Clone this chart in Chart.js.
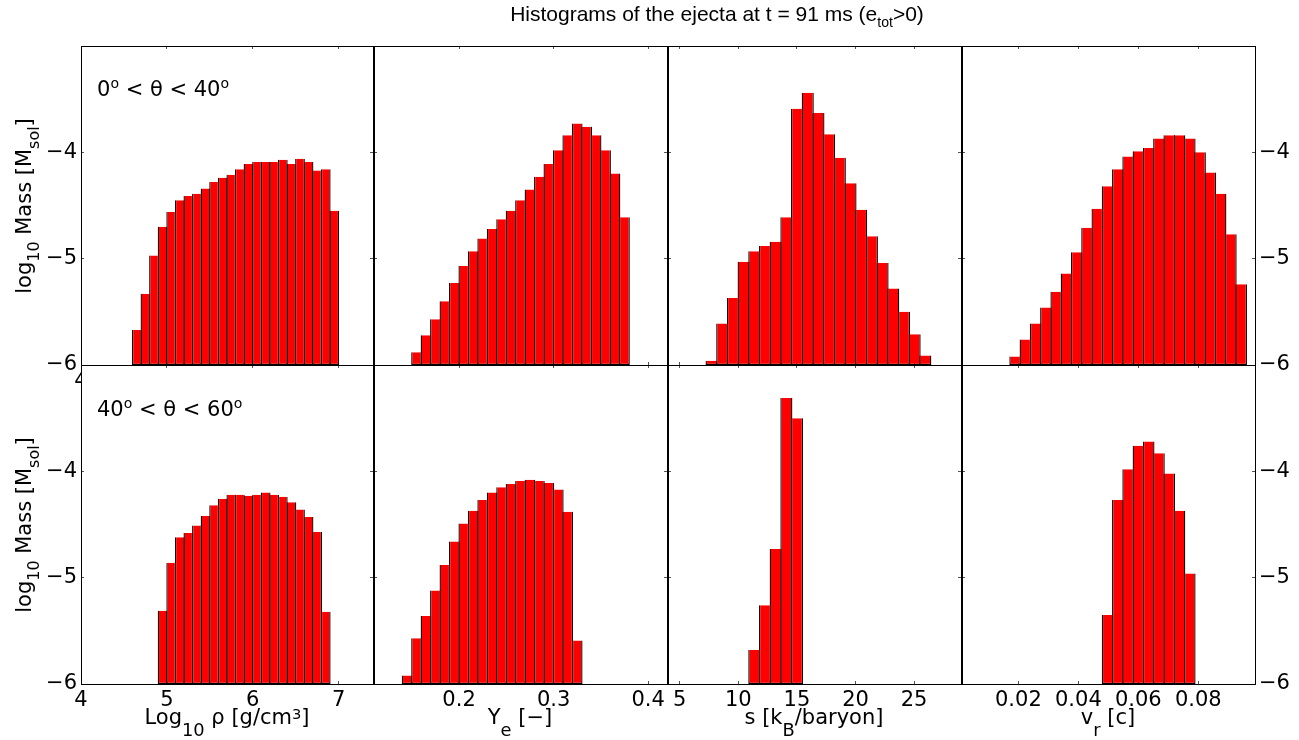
<!DOCTYPE html>
<html>
<head>
<meta charset="utf-8">
<title>Ejecta histograms</title>
<script src="https://cdn.jsdelivr.net/npm/chart.js@4.4.1/dist/chart.umd.min.js"></script>
<style>
  html, body { margin: 0; padding: 0; background: #fff; }
  #fig { position: relative; width: 1299px; height: 740px; overflow: hidden; }
  #fig canvas { position: absolute; left: 0; top: 0; }
  .txt { position: absolute; white-space: nowrap; line-height: 1; color: #000;
         font-family: "DejaVu Sans", sans-serif; font-size: 21px; }
  .txt sub, .txt sup { line-height: 0; }
  .title { font-family: "Liberation Sans", Arial, sans-serif; left: 717px; top: 3px; transform: translateX(-50%); }
  .title sub { font-size: 0.67em; vertical-align: -0.42em; }
  .rowtag { left: 97px; }
  .rowtag sup { font-size: 0.67em; vertical-align: 0.6em; }
  .xlab { top: 707px; transform: translateX(-50%); }
  .xlab sub { font-size: 0.85em; vertical-align: -0.7em; }
  .xlab sup { font-size: 0.7em; vertical-align: 0.35em; }
  .ylab { left: 24px; height: 21px; transform: translate(-50%, -50%) rotate(-90deg); }
  .ylab sub { font-size: 0.76em; vertical-align: -0.55em; }
</style>
</head>
<body>
<div id="fig">
  <canvas id="p1" width="1299" height="740"></canvas>
  <canvas id="p2" width="1299" height="740"></canvas>
  <canvas id="p3" width="1299" height="740"></canvas>
  <canvas id="p4" width="1299" height="740"></canvas>
  <canvas id="p5" width="1299" height="740"></canvas>
  <canvas id="p6" width="1299" height="740"></canvas>
  <canvas id="p7" width="1299" height="740"></canvas>
  <canvas id="p8" width="1299" height="740"></canvas>

  <div class="txt title">Histograms of the ejecta at t = 91 ms (e<sub>tot</sub>&gt;0)</div>
  <div class="txt rowtag" style="top:79px">0<sup>o</sup> &lt; θ &lt; 40<sup>o</sup></div>
  <div class="txt rowtag" style="top:399px">40<sup>o</sup> &lt; θ &lt; 60<sup>o</sup></div>
  <div class="txt ylab" style="top:206px">log<sub>10</sub> Mass [M<sub>sol</sub>]</div>
  <div class="txt ylab" style="top:525px">log<sub>10</sub> Mass [M<sub>sol</sub>]</div>
  <div class="txt xlab" style="left:227px">Log<sub>10</sub> ρ [g/cm<sup>3</sup>]</div>
  <div class="txt xlab" style="left:520px">Y<sub>e</sub> [−]</div>
  <div class="txt xlab" style="left:814px">s [k<sub>B</sub>/baryon]</div>
  <div class="txt xlab" style="left:1108px">v<sub>r</sub> [c]</div>
</div>

<script>
// ---------- DATA ----------
// log10 of ejected mass per bin; "A" = 0-40 deg, "B" = 40-60 deg

const massFloor = -6;
const massCeil = -3;
const massTicks = [-6, -5, -4, -3];

// density
const rhoTicks = [4, 5, 6, 7];
const rhoBinsA = [4.65, 4.75, 4.85, 4.95, 5.05, 5.15, 5.25, 5.35, 5.45, 5.55, 5.65, 5.75,
                  5.85, 5.95, 6.05, 6.15, 6.25, 6.35, 6.45, 6.55, 6.65, 6.75, 6.85, 6.95];
const rhoMassA = [-5.67, -5.33, -4.97, -4.70, -4.56, -4.45, -4.41, -4.39, -4.34, -4.28, -4.24, -4.21,
                  -4.16, -4.11, -4.09, -4.09, -4.09, -4.07, -4.11, -4.06, -4.09, -4.17, -4.16, -4.55];
const rhoBinsB = [4.95, 5.05, 5.15, 5.25, 5.35, 5.45, 5.55, 5.65, 5.75, 5.85,
                  5.95, 6.05, 6.15, 6.25, 6.35, 6.45, 6.55, 6.65, 6.75, 6.85];
const rhoMassB = [-5.31, -4.86, -4.62, -4.58, -4.51, -4.42, -4.32, -4.26, -4.22, -4.22,
                  -4.23, -4.22, -4.20, -4.22, -4.24, -4.29, -4.36, -4.43, -4.57, -5.32];

// electron fraction
const yeTicks = [0.2, 0.3, 0.4];
const yeBinsA = [0.155, 0.165, 0.175, 0.185, 0.195, 0.205, 0.215, 0.225, 0.235, 0.245, 0.255, 0.265,
                 0.275, 0.285, 0.295, 0.305, 0.315, 0.325, 0.335, 0.345, 0.355, 0.365, 0.375];
const yeMassA = [-5.88, -5.72, -5.57, -5.40, -5.23, -5.07, -4.93, -4.81, -4.72, -4.63, -4.55, -4.45,
                 -4.35, -4.23, -4.11, -3.98, -3.84, -3.73, -3.76, -3.84, -3.98, -4.20, -4.61];
const yeBinsB = [0.145, 0.155, 0.165, 0.175, 0.185, 0.195, 0.205, 0.215, 0.225, 0.235,
                 0.245, 0.255, 0.265, 0.275, 0.285, 0.295, 0.305, 0.315, 0.325];
const yeMassB = [-5.92, -5.57, -5.36, -5.12, -4.88, -4.66, -4.49, -4.37, -4.27, -4.20,
                 -4.15, -4.12, -4.09, -4.08, -4.09, -4.11, -4.17, -4.38, -5.59];

// entropy
const sTicks = [5, 10, 15, 20, 25];
const sBinsA = [7.716, 8.628, 9.540, 10.452, 11.364, 12.276, 13.188, 14.100, 15.012, 15.924, 16.836,
                17.748, 18.660, 19.572, 20.484, 21.396, 22.308, 23.220, 24.132, 25.044, 25.956];
const sMassA = [-5.96, -5.61, -5.37, -5.03, -4.93, -4.88, -4.84, -4.61, -3.59, -3.44, -3.63,
                -3.83, -4.05, -4.29, -4.54, -4.79, -5.04, -5.28, -5.50, -5.71, -5.91];
const sBinsB = [11.364, 12.276, 13.188, 14.100, 15.012];
const sMassB = [-5.68, -5.26, -4.73, -3.31, -3.50];

// radial velocity
const vrTicks = [0.02, 0.04, 0.06, 0.08];
const vrBinsA = [0.018913, 0.022339, 0.025765, 0.029191, 0.032617, 0.036043, 0.039469, 0.042895,
                 0.046321, 0.049747, 0.053173, 0.056599, 0.060025, 0.063451, 0.066877, 0.070303,
                 0.073729, 0.077155, 0.080581, 0.084007, 0.087433, 0.090859, 0.094285];
const vrMassA = [-5.92, -5.76, -5.61, -5.46, -5.31, -5.14, -4.94, -4.71,
                 -4.53, -4.32, -4.16, -4.04, -3.99, -3.96, -3.87, -3.84,
                 -3.84, -3.87, -4.00, -4.19, -4.39, -4.77, -5.24];
const vrBinsB = [0.049747, 0.053173, 0.056599, 0.060025, 0.063451, 0.066877, 0.070303, 0.073729, 0.077155];
const vrMassB = [-5.35, -4.27, -3.98, -3.76, -3.72, -3.83, -4.02, -4.37, -4.96];

// ---------- LAYOUT ----------

const pageW = 1299, pageH = 740;
const columns = [
  { left: 81,  right: 373,  min: 4,      max: 7.4,    ticks: rhoTicks },
  { left: 374, right: 667,  min: 0.11,   max: 0.42,   ticks: yeTicks },
  { left: 668, right: 961,  min: 4,      max: 29,     ticks: sTicks },
  { left: 962, right: 1255, min: 0.0012, max: 0.0989, ticks: vrTicks }
];
const rows = [{ top: 46, bottom: 365 }, { top: 365, bottom: 684 }];

// room reserved for each axis box (labels are clipped to it)
const axisRoom = { left: 60, right: 40, bottom: 50, top: 0 };

const tickFont = { family: "'DejaVu Sans', sans-serif", size: 21 };

// white plot box, so lower panels hide the upper panels' x labels
const whiteBox = {
  id: "whiteBox",
  beforeDraw(chart) {
    const a = chart.chartArea;
    chart.ctx.save();
    chart.ctx.fillStyle = "#fff";
    chart.ctx.fillRect(a.left, a.top, a.right - a.left, a.bottom - a.top);
    chart.ctx.restore();
  }
};

function massLabel(v) {
  return v === massCeil ? "" : "\u2212" + Math.abs(v);
}

// one edge of a panel box: inward ticks, no grid
function edgeAxis(position, min, max, tickValues, showLabels, fmt) {
  const horizontal = position === "top" || position === "bottom";
  const room = axisRoom[position];
  return {
    type: "linear",
    position: position,
    min: min,
    max: max,
    offset: false,
    afterBuildTicks: s => { s.ticks = tickValues.map(v => ({ value: v })); },
    afterFit: s => { if (horizontal) s.height = room; else s.width = room; },
    grid: { drawOnChartArea: false, drawTicks: true, tickLength: -3, color: "#555", lineWidth: 1, offset: false },
    border: { display: true, color: "#000", width: 1, z: 1 },
    ticks: {
      display: showLabels,
      font: tickFont,
      color: "#000",
      padding: 7,
      maxRotation: 0,
      autoSkip: false,
      callback: fmt
    }
  };
}

function makePanel(canvasId, colIdx, rowIdx, bins, mass) {
  const col = columns[colIdx];
  const row = rows[rowIdx];
  const points = bins.map((x, i) => ({ x: x, y: [massFloor, mass[i]] }));

  return new Chart(document.getElementById(canvasId), {
    type: "bar",
    data: {
      datasets: [{
        data: points,
        xAxisID: "x",
        yAxisID: "y",
        backgroundColor: "#ff0000",
        borderColor: "#000",
        borderWidth: 1.3,
        barPercentage: 1.13,
        categoryPercentage: 1
      }]
    },
    options: {
      responsive: false,
      animation: false,
      events: [],
      layout: {
        padding: {
          left: col.left - axisRoom.left,
          right: pageW - col.right - axisRoom.right,
          top: row.top - axisRoom.top,
          bottom: pageH - row.bottom - axisRoom.bottom
        }
      },
      plugins: { legend: { display: false }, tooltip: { enabled: false } },
      scales: {
        x: edgeAxis("bottom", col.min, col.max, col.ticks, true, v => String(v)),
        xTop: edgeAxis("top", col.min, col.max, col.ticks, false, v => String(v)),
        y: edgeAxis("left", massFloor, massCeil, massTicks, colIdx === 0, massLabel),
        yRight: edgeAxis("right", massFloor, massCeil, massTicks, colIdx === 3, massLabel)
      }
    },
    plugins: [whiteBox]
  });
}

// ---------- DRAW ----------

makePanel("p1", 0, 0, rhoBinsA, rhoMassA);
makePanel("p2", 1, 0, yeBinsA, yeMassA);
makePanel("p3", 2, 0, sBinsA, sMassA);
makePanel("p4", 3, 0, vrBinsA, vrMassA);
makePanel("p5", 0, 1, rhoBinsB, rhoMassB);
makePanel("p6", 1, 1, yeBinsB, yeMassB);
makePanel("p7", 2, 1, sBinsB, sMassB);
makePanel("p8", 3, 1, vrBinsB, vrMassB);
</script>
</body>
</html>
